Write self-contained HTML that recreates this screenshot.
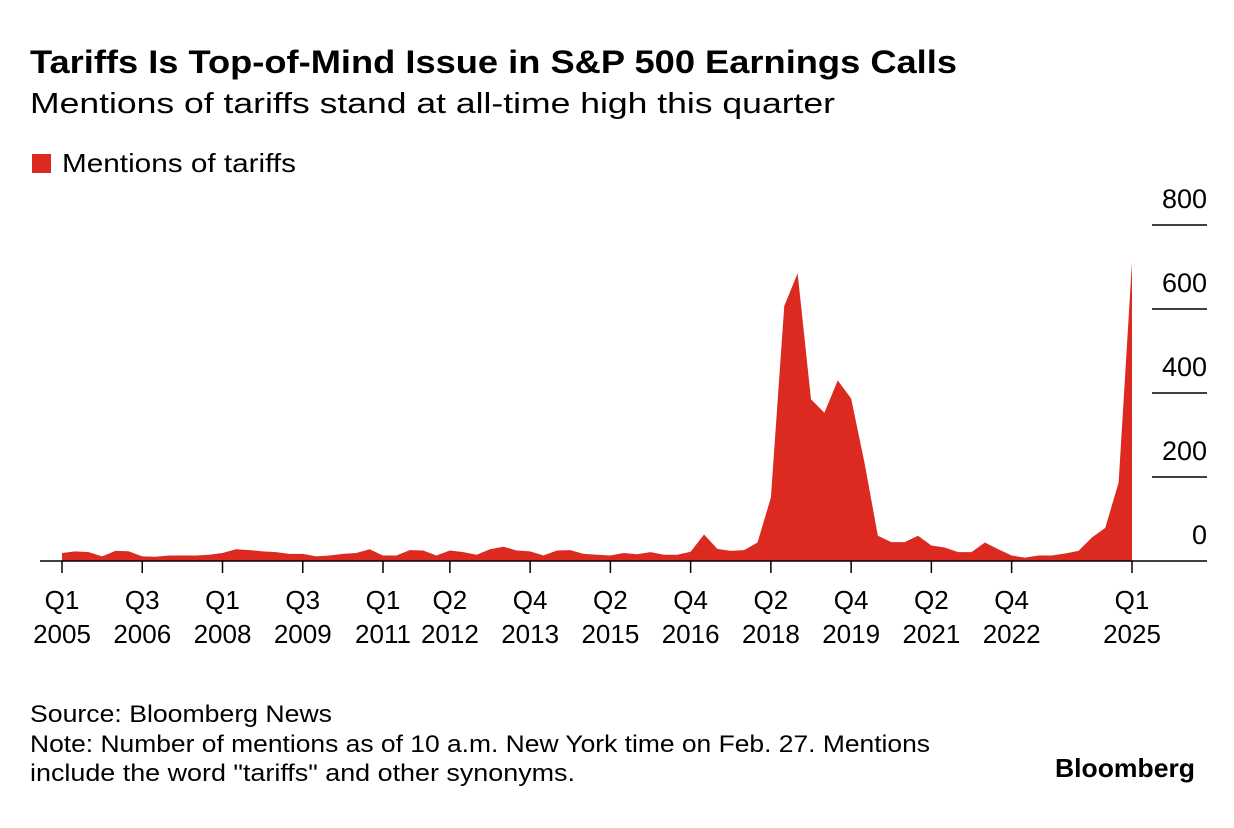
<!DOCTYPE html>
<html><head><meta charset="utf-8"><style>
html,body{margin:0;padding:0;background:#fff;}
svg{display:block;font-family:"Liberation Sans",Arial,sans-serif;}
</style></head><body>
<svg id="chart" width="1234" height="828" viewBox="0 0 1234 828" xmlns="http://www.w3.org/2000/svg">
<text x="30" y="73" font-size="32" font-weight="bold" fill="#000" textLength="927" lengthAdjust="spacingAndGlyphs">Tariffs Is Top-of-Mind Issue in S&amp;P 500 Earnings Calls</text>
<text x="30" y="113" font-size="29" fill="#000" textLength="805" lengthAdjust="spacingAndGlyphs">Mentions of tariffs stand at all-time high this quarter</text>
<rect x="32" y="154" width="19" height="19" fill="#dc2a21"/>
<text x="62" y="172" font-size="26" fill="#000" textLength="234" lengthAdjust="spacingAndGlyphs">Mentions of tariffs</text>
<g id="grid"></g>
<path id="area" fill="#dc2a21"/>
<line x1="40" y1="561" x2="1207" y2="561" stroke="#000" stroke-width="1.5"/>
<g id="xticks"></g>
<text x="30" y="722" font-size="24" fill="#000" textLength="302" lengthAdjust="spacingAndGlyphs">Source: Bloomberg News</text>
<text x="30" y="752" font-size="24" fill="#000" textLength="900" lengthAdjust="spacingAndGlyphs">Note: Number of mentions as of 10 a.m. New York time on Feb. 27. Mentions</text>
<text x="30" y="781" font-size="24" fill="#000" textLength="545" lengthAdjust="spacingAndGlyphs">include the word "tariffs" and other synonyms.</text>
<text x="1055" y="777" font-size="26" font-weight="bold" fill="#000" textLength="140" lengthAdjust="spacingAndGlyphs">Bloomberg</text>
</svg>
<script>
const values = [19,23,21,11,24,23,11,10,13,13,13,15,19,28,26,23,21,17,17,11,13,17,19,28,13,13,26,25,13,25,21,15,28,34,25,23,13,25,26,17,15,13,19,16,21,15,15,22,63,29,24,26,44,151,607,685,385,353,430,387,234,60,45,45,60,37,32,21,21,44,28,13,8,13,13,18,24,56,79,187,712];
const yTicks = [0,200,400,600,800];
const xTickIdx = [0,6,12,18,24,29,35,41,47,53,59,65,71,80];
const xTickQ = ["Q1","Q3","Q1","Q3","Q1","Q2","Q4","Q2","Q4","Q2","Q4","Q2","Q4","Q1"];
const xTickYear = ["2005","2006","2008","2009","2011","2012","2013","2015","2016","2018","2019","2021","2022","2025"];
const NS="http://www.w3.org/2000/svg";
const x0=62,x1=1132,n=80,yBase=561,yScale=0.42;
function xs(i){return x0+(x1-x0)*i/n;}
function ys(v){return yBase-v*yScale;}
let d="M"+xs(0)+","+yBase;
for(let i=0;i<values.length;i++){d+=" L"+xs(i).toFixed(2)+","+ys(values[i]).toFixed(2);}
d+=" L"+xs(values.length-1)+","+yBase+" Z";
document.getElementById('area').setAttribute('d',d);
const grid=document.getElementById('grid');
yTicks.forEach(t=>{
  if(t>0){
    const l=document.createElementNS(NS,'line');
    l.setAttribute('x1',1152);l.setAttribute('x2',1207);
    l.setAttribute('y1',ys(t));l.setAttribute('y2',ys(t));
    l.setAttribute('stroke','#000');l.setAttribute('stroke-width','1.5');
    
    
    grid.appendChild(l);
  }
  const tx=document.createElementNS(NS,'text');
  tx.setAttribute('x',1207);tx.setAttribute('y',ys(t)-17);
  tx.setAttribute('text-anchor','end');tx.setAttribute('font-size','27');
  tx.textContent=t;
  
  
  grid.appendChild(tx);
});
const xt=document.getElementById('xticks');
xTickIdx.forEach((idx,k)=>{
  const x=xs(idx);
  const l=document.createElementNS(NS,'line');
  l.setAttribute('x1',x);l.setAttribute('x2',x);
  l.setAttribute('y1',561);l.setAttribute('y2',573);
  l.setAttribute('stroke','#000');l.setAttribute('stroke-width','1.5');
  
  
  xt.appendChild(l);
  const q=document.createElementNS(NS,'text');
  q.setAttribute('x',x);q.setAttribute('y',609);q.setAttribute('text-anchor','middle');q.setAttribute('font-size','26');
  q.textContent=xTickQ[k];
  
  
  xt.appendChild(q);
  const y=document.createElementNS(NS,'text');
  y.setAttribute('x',x);y.setAttribute('y',643);y.setAttribute('text-anchor','middle');y.setAttribute('font-size','26');
  y.textContent=xTickYear[k];
  
  
  xt.appendChild(y);
});
</script>
</body></html>
